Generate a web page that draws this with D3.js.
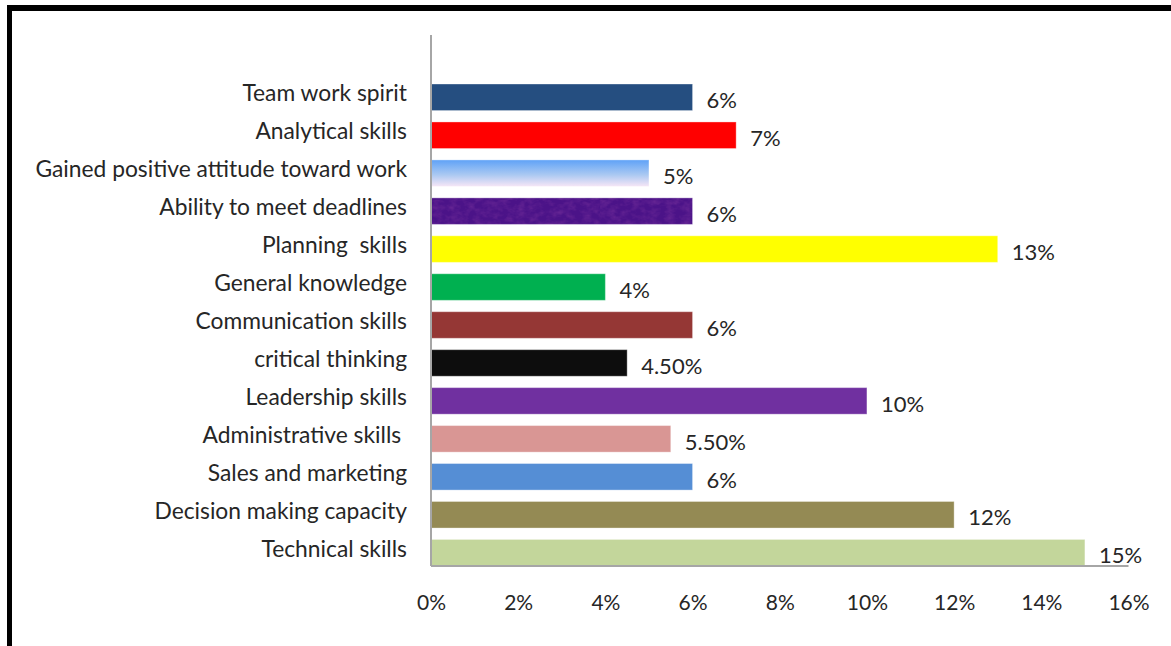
<!DOCTYPE html>
<html>
<head>
<meta charset="utf-8">
<script src="https://d3js.org/d3.v7.min.js"></script>
<style>
    body { margin: 0; background: #fff; }
    svg { display: block; }
    text { font-family: Lato, "Open Sans", sans-serif; fill: #262626; }
</style>
</head>
<body>
<script>
            // Data
            var categories = ["Team work spirit", "Analytical skills", "Gained positive attitude toward work",
                "Ability to meet deadlines", "Planning  skills", "General knowledge", "Communication skills",
                "critical thinking", "Leadership skills", "Administrative skills ", "Sales and marketing",
                "Decision making capacity", "Technical skills"];
            var values = [6, 7, 5, 6, 13, 4, 6, 4.5, 10, 5.5, 6, 12, 15];
            var valueLabels = ["6%", "7%", "5%", "6%", "13%", "4%", "6%", "4.50%", "10%", "5.50%", "6%", "12%", "15%"];
            var barColors = ["#254E80", "#FF0000", "url(#blueFade)", "url(#purpleTex)", "#FFFF00", "#00B050",
                "#953735", "#0D0D0D", "#7030A0", "#D99694", "#558ED5", "#948A54", "#C3D69B"];
            var tickValues = [0, 2, 4, 6, 8, 10, 12, 14, 16];

            var w = 1171;
            var h = 646;
            var x0 = 431, x1 = 1128.5;
            var yTop = 84, yBottom = 566;

            var svg = d3.select("body")
                        .append("svg")
                        .attr("width", w)
                        .attr("height", h);

            var defs = svg.append("defs");

            // gradient for the "gained positive attitude" bar
            var grad = defs.append("linearGradient")
                .attr("id", "blueFade")
                .attr("x1", 0).attr("y1", 0).attr("x2", 0).attr("y2", 1);
            grad.append("stop").attr("offset", "0%").attr("stop-color", "#5FA2F7");
            grad.append("stop").attr("offset", "55%").attr("stop-color", "#A9C8F2");
            grad.append("stop").attr("offset", "100%").attr("stop-color", "#F6E6F6");

            // mottled purple texture
            var pat = defs.append("pattern")
                .attr("id", "purpleTex")
                .attr("patternUnits", "userSpaceOnUse")
                .attr("width", 300).attr("height", 40);
            var filt = defs.append("filter").attr("id", "mottle")
                .attr("x", 0).attr("y", 0).attr("width", 1).attr("height", 1);
            filt.append("feTurbulence")
                .attr("type", "fractalNoise")
                .attr("baseFrequency", "0.12 0.18")
                .attr("numOctaves", 3)
                .attr("seed", 4);
            filt.append("feColorMatrix")
                .attr("type", "matrix")
                .attr("values", "0 0 0 0 0.14  0 0 0 0 0.02  0 0 0 0 0.30  0 0 0 -1.6 1.0");
            pat.append("rect").attr("width", 300).attr("height", 40).attr("fill", "#4B1388");
            pat.append("rect").attr("width", 300).attr("height", 40).attr("filter", "url(#mottle)");

            var xScale = d3.scaleLinear()
                            .domain([0, 16])
                            .range([x0, x1]);

            var yScale = d3.scaleBand()
                            .domain(categories)
                            .range([yTop, yBottom])
                            .paddingInner(0.3)
                            .paddingOuter(0);

            // frame (top + left)
            svg.append("rect").attr("x", 7).attr("y", 5).attr("width", w - 7).attr("height", 6).attr("fill", "#000");
            svg.append("rect").attr("x", 7).attr("y", 5).attr("width", 5).attr("height", h - 5).attr("fill", "#000");

            // bars
            svg.selectAll("rect.bar")
                .data(values)
                .enter()
                .append("rect")
                .attr("class", "bar")
                .attr("x", xScale(0))
                .attr("y", function(d, i) {
                    return yScale(categories[i]);
                })
                .attr("width", function(d) {
                    return xScale(d) - xScale(0);
                })
                .attr("height", yScale.bandwidth())
                .attr("fill", function(d, i) {
                    return barColors[i];
                })
                .attr("stroke", "rgba(255,255,255,0.35)")
                .attr("stroke-width", 1);

            // axis lines
            svg.append("line")
                .attr("x1", x0).attr("x2", x0)
                .attr("y1", 35).attr("y2", yBottom)
                .attr("stroke", "#A6A6A6").attr("stroke-width", 2);
            svg.append("line")
                .attr("x1", x0).attr("x2", x1)
                .attr("y1", yBottom).attr("y2", yBottom)
                .attr("stroke", "#A6A6A6").attr("stroke-width", 2);

            // x tick labels
            var xAxis = d3.axisBottom(xScale)
                .tickValues(tickValues)
                .tickSize(0)
                .tickPadding(0)
                .tickFormat(function(d) { return d + "%"; });

            var gx = svg.append("g")
                .attr("transform", "translate(0," + 595 + ")")
                .call(xAxis);
            gx.select(".domain").remove();
            gx.selectAll("text")
                .attr("font-size", 21)
                .attr("font-family", null)
                .attr("fill", "#262626")
                .attr("dy", "0.71em");

            // category labels
            svg.selectAll("text.cat")
                .data(categories)
                .enter()
                .append("text")
                .attr("class", "cat")
                .attr("x", 407)
                .attr("y", function(d) {
                    return yScale(d) + yScale.bandwidth() / 2 - 4;
                })
                .attr("dy", "0.35em")
                .attr("text-anchor", "end")
                .attr("font-size", 22.8)
                .style("white-space", "pre")
                .text(function(d) { return d; });

            // value labels
            svg.selectAll("text.val")
                .data(values)
                .enter()
                .append("text")
                .attr("class", "val")
                .attr("x", function(d) {
                    return xScale(d) + 14;
                })
                .attr("y", function(d, i) {
                    return yScale(categories[i]) + yScale.bandwidth() / 2 + 3;
                })
                .attr("dy", "0.35em")
                .attr("font-size", 22)
                .text(function(d, i) { return valueLabels[i]; });
</script>
</body>
</html>
